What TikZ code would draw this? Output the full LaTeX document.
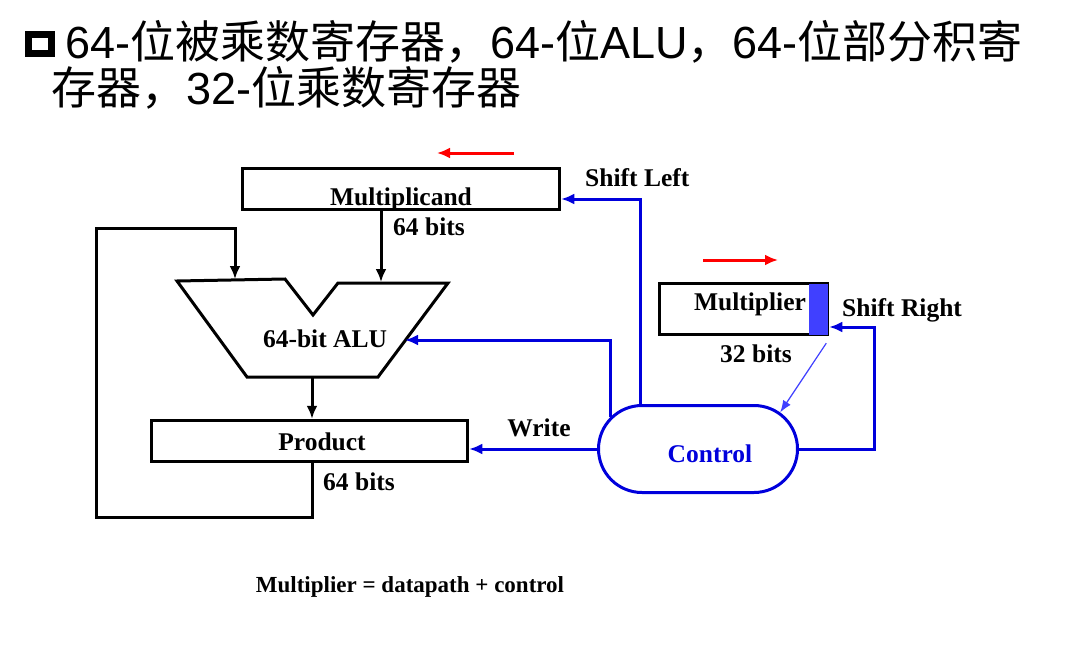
\documentclass[tikz,border=0pt]{standalone}
\usepackage{fontspec}
\setmainfont{Liberation Serif}
\newfontfamily\arialfont{Liberation Sans}
\newfontfamily\cjk{Noto Sans CJK SC}
\usetikzlibrary{shapes,shapes.misc,arrows.meta,calc}
\definecolor{ctlblue}{RGB}{0,0,220}
\definecolor{bitblue}{RGB}{64,64,255}
\newcommand{\zh}[1]{{\cjk #1}}
\tikzset{
  reg/.style={
      draw,
      rectangle,
      line width=3.5pt,
      inner sep=0pt,
  },
  lbl/.style={
      font=\bfseries\fontsize{25.5}{26}\selectfont,
      inner sep=0pt,
  },
  headline/.style={
      font=\arialfont\fontsize{45}{46}\selectfont,
      inner sep=0pt,
      anchor=base west,
  },
  bus/.style={
      line width=3pt,
      -{Latex[length=13pt,width=11pt]},
  },
  ctl/.style={
      draw=ctlblue,
      line width=3pt,
      -{Latex[length=13pt,width=11pt]},
  },
  ctlbox/.style={
      draw=ctlblue,
      line width=3pt,
      rounded rectangle,
      minimum width=199pt,
      minimum height=87pt,
      inner sep=0pt,
  },
  shiftdir/.style={
      red,
      line width=3pt,
      -{Latex[length=13pt,width=11pt]},
  }
}

\begin{document}
\begin{tikzpicture}[x=1pt,y=-1pt]
	\useasboundingbox (0,0) rectangle (1078,658);
	% title
	\node[draw, line width=7pt, minimum width=23pt, minimum height=19pt, inner sep=0pt] (bullet) at (40,44) {};
	\node[headline] (head1) at (65,59) {64-\zh{位被乘数寄存器，}64-\zh{位}ALU\zh{，}64-\zh{位部分积寄}};
	\node[headline] (head2) at (51,105) {\zh{存器，}32-\zh{位乘数寄存器}};

	% registers
	\node[reg, minimum width=317pt, minimum height=41pt] (mcand) at (401,189) {};
	\node[lbl, anchor=base] (mcandtxt) at (401,205) {Multiplicand};
	\node[lbl, anchor=base west] (mcandbits) at (393,235) {64 bits};
	\node[reg, minimum width=316pt, minimum height=41pt] (prod) at (309.5,441) {};
	\node[lbl, anchor=base] (prodtxt) at (322,450) {Product};
	\node[lbl, anchor=base west] (prodbits) at (323,490) {64 bits};
	\node[reg, minimum width=168pt, minimum height=51pt] (mplier) at (743.5,309) {};
	\fill[bitblue] ([xshift=-20pt,yshift=-1.75pt]mplier.north east) rectangle ([xshift=-1.75pt,yshift=1.75pt]mplier.south east);
	\node[lbl, anchor=base] (mpliertxt) at (750,310) {Multiplier};
	\node[lbl, anchor=base west] (mplierbits) at (720,362) {32 bits};

	% alu
	\draw[line width=3pt, line join=miter] (177,281) -- (285,279) -- (313,315) -- (338,283) -- (448,283) -- (378,377) -- (247,377) -- cycle;
	\coordinate (alua) at (235,279);
	\coordinate (alub) at (381,282);
	\coordinate (aluc) at (405,340);
	\coordinate (aluout) at (312,377);
	\node[lbl, anchor=base] (alutxt) at (325,347) {64-bit ALU};

	% control
	\node[ctlbox] (ctrl) at (698,449) {};
	\node[lbl, anchor=base, text=ctlblue] (ctrltxt) at (710,462) {Control};

	% datapath
	\draw[bus] (mcand.south -| alub) -- (alub);
	\draw[bus] (aluout) -- (aluout |- prod.north);
	\coordinate (loopa) at (96,517);
	\coordinate (loopb) at (96,228);
	\draw[bus] (prod.south -| aluout) |- (loopa) -- (loopb) -| (alua);

	% control lines
	\coordinate (srcorner) at (874,327);
	\draw[ctl] (ctrl.west) -- (prod.east |- ctrl.west);
	\node[lbl, anchor=base] (writetxt) at (539,436) {Write};
	\draw[ctl] (ctrl.160) |- (aluc);
	\draw[ctl] (ctrl.142) |- ([yshift=-10pt]mcand.east);
	\node[lbl, anchor=base west] (sltxt) at (585,186) {Shift Left};
	\draw[ctl] (ctrl.east) -| (srcorner) -- (mplier.east |- srcorner);
	\node[lbl, anchor=base west] (srtxt) at (842,316) {Shift Right};
	\draw[bitblue, line width=1.2pt, -{Latex[length=12pt,width=9pt]}] ([xshift=-3pt,yshift=-7pt]mplier.south east) -- (ctrl.24);

	% shift directions
	\draw[shiftdir] (514,153) -- (437,153);
	\draw[shiftdir] (703,260) -- (778,260);

	\node[lbl, font=\bfseries\fontsize{23}{24}\selectfont, anchor=base] (note) at (410,592) {Multiplier = datapath + control};
\end{tikzpicture}
\end{document}
